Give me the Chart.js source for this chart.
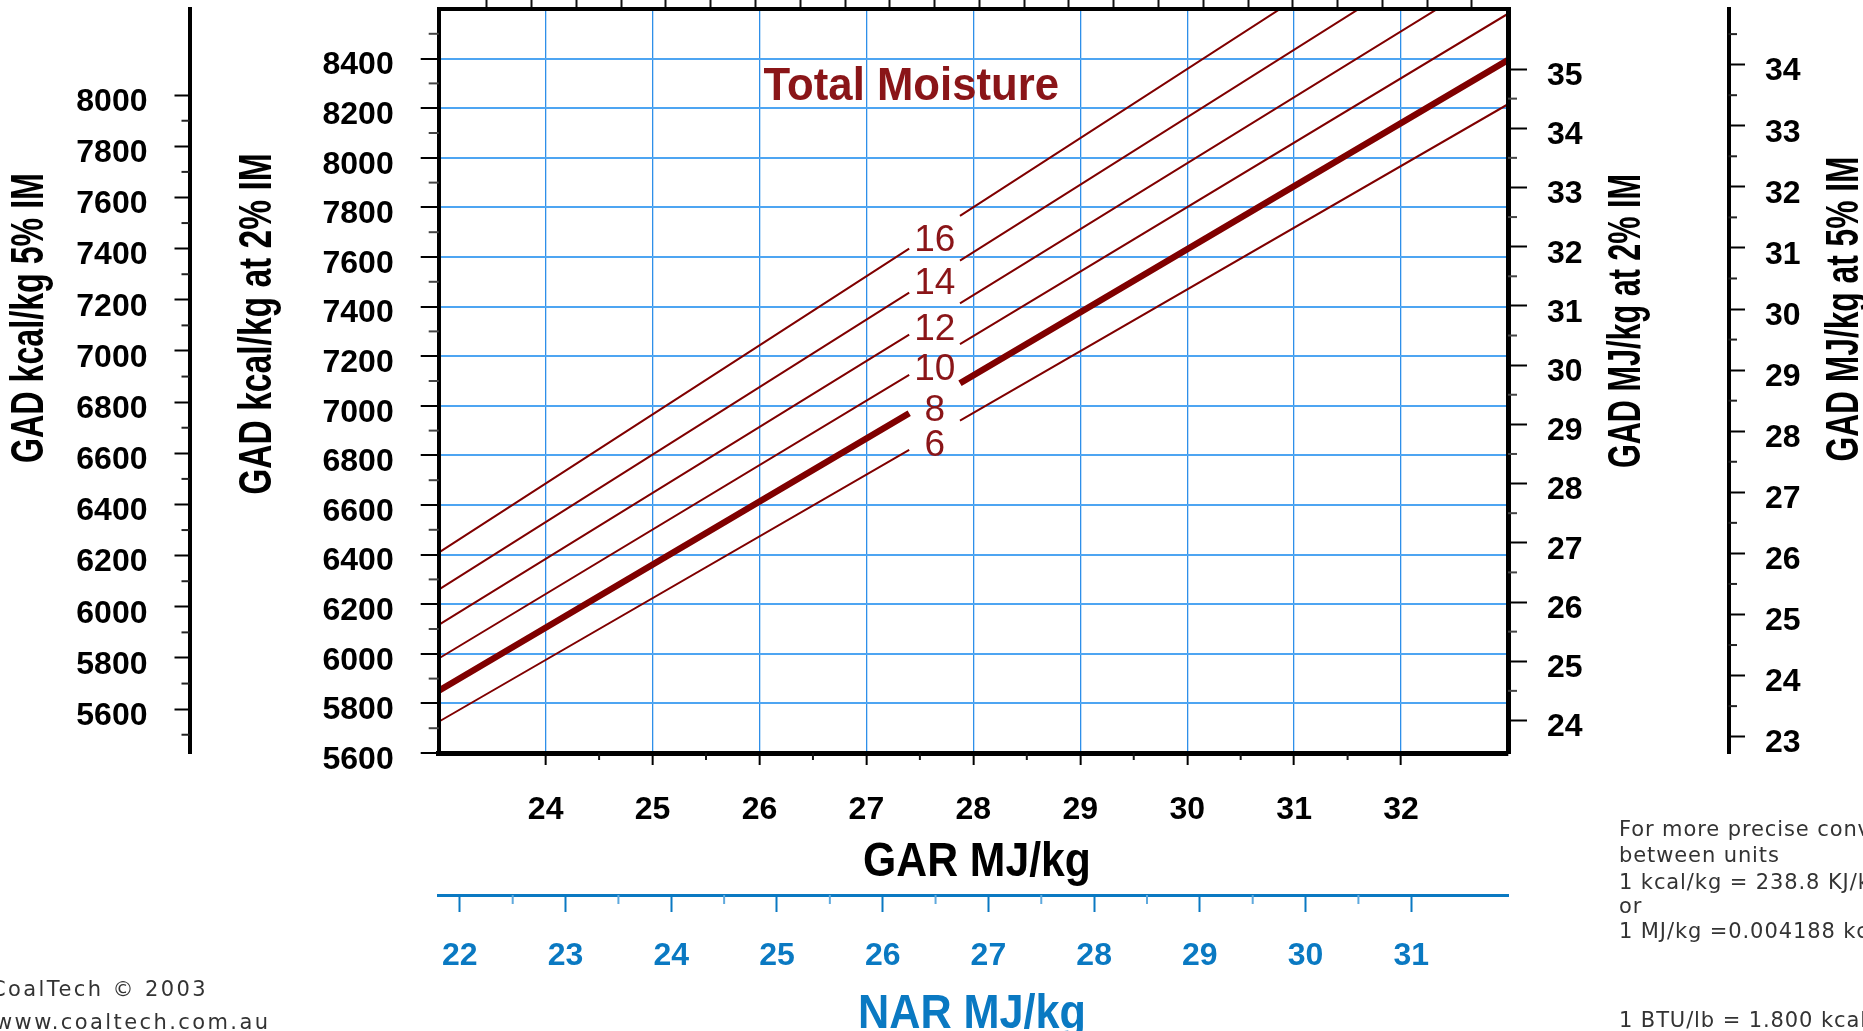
<!DOCTYPE html>
<html>
<head>
<meta charset="utf-8">
<title>GAR to GAD conversion</title>
<script src="https://cdn.jsdelivr.net/npm/chart.js@4.4.1/dist/chart.umd.min.js"></script>
<style>
  html, body { margin: 0; padding: 0; background: #fff; overflow: hidden; }
  #wrap { position: relative; width: 1863px; height: 1031px; overflow: hidden; }
  #chart { position: absolute; left: 0; top: 0; }
  .note { position: absolute; white-space: nowrap; font-family: 'DejaVu Sans', sans-serif; font-size: 21px; line-height: 1; color: #333; letter-spacing: 0.9px; }
  .credit { letter-spacing: 2.4px; }
</style>
</head>
<body>
<div id="wrap">
  <canvas id="chart" width="1863" height="1031"></canvas>
  <div class="note credit" style="left:-9px; top:979px;">CoalTech © 2003</div>
  <div class="note credit" style="left:-5px; top:1012px;">www.coaltech.com.au</div>
  <div class="note" style="left:1619px; top:819px;">For more precise conversions</div>
  <div class="note" style="left:1619px; top:845px;">between units</div>
  <div class="note" style="left:1619px; top:872px;">1 kcal/kg = 238.8 KJ/kg</div>
  <div class="note" style="left:1619px; top:896px;">or</div>
  <div class="note" style="left:1619px; top:921px;">1 MJ/kg =0.004188 kcal/kg</div>
  <div class="note" style="left:1619px; top:1010px;">1 BTU/lb = 1.800 kcal/kg</div>
</div>
<script>
// Total moisture lines, sampled at these GAR MJ/kg values
// (each line is broken between the 2nd and 3rd point to leave room for its label)
const garPoints = [23, 27.4, 27.875, 33];
const moistureLevels = [6, 8, 10, 12, 14, 16];
// GAD kcal/kg at 2% IM read at garPoints
const gadTm6 = [5726, 6822, 6940, 8216];
const gadTm8 = [5851, 6970, 7091, 8394];
const gadTm10 = [5981, 7125, 7249, 8581];
const gadTm12 = [6117, 7287, 7413, 8776];
const gadTm14 = [6259, 7456, 7585, 8980];
const gadTm16 = [6408, 7634, 7766, 9194];
// where the moisture numbers sit
const moistureLabelGar = 27.64;
const moistureLabelGad = [6839, 6980, 7147, 7308, 7490, 7665];

// axis ticks
const garTicks = [24, 25, 26, 27, 28, 29, 30, 31, 32];
const garMinor = [24.5, 25.5, 26.5, 27.5, 28.5, 29.5, 30.5, 31.5];
const narTicks = [22, 23, 24, 25, 26, 27, 28, 29, 30, 31];
const narMinor = [22.5, 23.5, 24.5, 25.5, 26.5, 27.5, 28.5, 29.5, 30.5];
const gadKcalTicks = [5600, 5800, 6000, 6200, 6400, 6600, 6800, 7000, 7200, 7400, 7600, 7800, 8000, 8200, 8400];
const gadKcalMinor = [5700, 5900, 6100, 6300, 6500, 6700, 6900, 7100, 7300, 7500, 7700, 7900, 8100, 8300, 8500];
const gadMjTicks = [24, 25, 26, 27, 28, 29, 30, 31, 32, 33, 34, 35];
const gadMjMinor = [24.5, 25.5, 26.5, 27.5, 28.5, 29.5, 30.5, 31.5, 32.5, 33.5, 34.5];
const gad5KcalTicks = [5600, 5800, 6000, 6200, 6400, 6600, 6800, 7000, 7200, 7400, 7600, 7800, 8000];
const gad5KcalMinor = [5500, 5700, 5900, 6100, 6300, 6500, 6700, 6900, 7100, 7300, 7500, 7700, 7900];
const gad5MjTicks = [23, 24, 25, 26, 27, 28, 29, 30, 31, 32, 33, 34];
const gad5MjMinor = [23.5, 24.5, 25.5, 26.5, 27.5, 28.5, 29.5, 30.5, 31.5, 32.5, 33.5, 34.5];
const garKcalTicks = [5600, 5700, 5800, 5900, 6000, 6100, 6200, 6300, 6400, 6500, 6600, 6700,
                      6800, 6900, 7000, 7100, 7200, 7300, 7400, 7500, 7600, 7700, 7800];

// axis ranges and unit conversions
const garMin = 23, garMax = 33;
const gadMin = 5600, gadMax = 8600;
const narMin = 21.8, narMax = 31.915;
const KCAL_PER_MJ = 238.8;
const IM5_OVER_IM2 = 95 / 98;

const LINE_RED = '#800000';
const TEXT_RED = '#8a1518';
const NAR_BLUE = '#0a79c2';
const FONT = "'Liberation Sans', Arial, sans-serif";
const tickFont = { family: FONT, size: 32, weight: 'bold' };

const series = [gadTm6, gadTm8, gadTm10, gadTm12, gadTm14, gadTm16];
const datasets = series.map((vals, i) => ({
  label: moistureLevels[i] + '% TM',
  data: [
    { x: garPoints[0], y: vals[0] },
    { x: garPoints[1], y: vals[1] },
    { x: garPoints[1], y: null },
    { x: garPoints[2], y: vals[2] },
    { x: garPoints[3], y: vals[3] }
  ],
  borderColor: LINE_RED,
  borderWidth: moistureLevels[i] === 8 ? 6.5 : 2,
  pointRadius: 0,
  fill: false,
  tension: 0
}));

const useTicks = list => scale => { scale.ticks = list.map(v => ({ value: v })); };
// fixed axis sizes, and no extra room asked for by edge labels
const fixSize = (dim, size) => scale => {
  scale[dim] = size;
  scale.paddingTop = scale.paddingBottom = scale.paddingLeft = scale.paddingRight = 0;
};

// short ticks between the labelled ones
const minorTickSpecs = [
  { id: 'x', values: garMinor, len: 7, color: '#111' },
  { id: 'xN', values: narMinor, len: 9, color: '#5fa9dd' },
  { id: 'y', values: gadKcalMinor, len: 10, color: '#444' },
  { id: 'yL5', values: gad5KcalMinor, len: 8, color: '#222' },
  { id: 'yR', values: gadMjMinor, len: 9, color: '#444' },
  { id: 'yR5', values: gad5MjMinor, len: 8.5, color: '#222' }
];

const minorTicks = {
  id: 'minorTicks',
  afterDraw(chart) {
    const ctx = chart.ctx;
    ctx.save();
    ctx.lineWidth = 2;
    minorTickSpecs.forEach(spec => {
      const s = chart.scales[spec.id];
      ctx.strokeStyle = spec.color;
      spec.values.forEach(v => {
        const p = s.getPixelForValue(v);
        ctx.beginPath();
        if (s.position === 'left') { ctx.moveTo(s.right - spec.len, p); ctx.lineTo(s.right, p); }
        else if (s.position === 'right') { ctx.moveTo(s.left, p); ctx.lineTo(s.left + spec.len, p); }
        else { ctx.moveTo(p, s.top); ctx.lineTo(p, s.top + spec.len); }
        ctx.stroke();
      });
    });
    ctx.restore();
  }
};

// axis titles (the originals use a condensed face, so the text is squeezed)
const titleSpecs = [
  { text: 'GAD kcal/kg 5% IM', x: 30, y: 318, rot: -Math.PI / 2, size: 46, squeeze: 0.70, color: '#000' },
  { text: 'GAD kcal/kg at 2% IM', x: 258, y: 324, rot: -Math.PI / 2, size: 46, squeeze: 0.73, color: '#000' },
  { text: 'GAD MJ/kg at 2% IM', x: 1627, y: 321, rot: -Math.PI / 2, size: 46, squeeze: 0.665, color: '#000' },
  { text: 'GAD MJ/kg at 5% IM', x: 1845, y: 309, rot: -Math.PI / 2, size: 46, squeeze: 0.69, color: '#000' },
  { text: 'GAR MJ/kg', x: 977, y: 863, rot: 0, size: 48, squeeze: 0.89, color: '#000' },
  { text: 'NAR MJ/kg', x: 972, y: 1015, rot: 0, size: 48, squeeze: 0.9, color: NAR_BLUE }
];

const chartText = {
  id: 'chartText',
  afterDraw(chart) {
    const ctx = chart.ctx;
    const xs = chart.scales.x, ys = chart.scales.y;
    ctx.save();
    ctx.textAlign = 'center';
    ctx.textBaseline = 'middle';

    titleSpecs.forEach(t => {
      ctx.save();
      ctx.translate(t.x, t.y);
      ctx.rotate(t.rot);
      ctx.scale(t.squeeze, 1);
      ctx.font = 'bold ' + t.size + 'px ' + FONT;
      ctx.fillStyle = t.color;
      ctx.fillText(t.text, 0, 0);
      ctx.restore();
    });

    // moisture numbers in the line breaks
    ctx.font = '37px ' + FONT;
    ctx.fillStyle = TEXT_RED;
    moistureLevels.forEach((m, i) => {
      ctx.fillText(String(m), xs.getPixelForValue(moistureLabelGar), ys.getPixelForValue(moistureLabelGad[i]));
    });

    // "Total Moisture" heading
    ctx.save();
    ctx.translate(xs.getPixelForValue(27.42), ys.getPixelForValue(8285));
    ctx.scale(0.93, 1);
    ctx.font = 'bold 47px ' + FONT;
    ctx.fillStyle = TEXT_RED;
    ctx.fillText('Total Moisture', 0, 0);
    ctx.restore();

    ctx.restore();
  }
};

new Chart(document.getElementById('chart'), {
  type: 'line',
  data: { datasets },
  options: {
    responsive: false,
    animation: false,
    devicePixelRatio: 1,
    events: [],
    layout: { padding: 0, autoPadding: false },
    plugins: { legend: { display: false }, tooltip: { enabled: false } },
    scales: {
      x: {
        type: 'linear', position: 'bottom', min: garMin, max: garMax,
        afterBuildTicks: useTicks(garTicks),
        afterFit: fixSize('height', 142),
        grid: { color: '#2e8fe9', lineWidth: 1.3, tickColor: '#000', tickWidth: 2, tickLength: 12 },
        border: { color: '#000', width: 5, z: 1 },
        ticks: { color: '#000', font: tickFont, padding: 25.5, maxRotation: 0, autoSkip: false, callback: v => String(v) }
      },
      xN: {
        type: 'linear', position: 'bottom', min: narMin, max: narMax,
        afterBuildTicks: useTicks(narTicks),
        afterFit: fixSize('height', 136),
        grid: { drawOnChartArea: false, tickColor: NAR_BLUE, tickWidth: 2, tickLength: 17 },
        border: { color: NAR_BLUE, width: 3 },
        ticks: { color: NAR_BLUE, font: tickFont, padding: 24.5, maxRotation: 0, autoSkip: false, callback: v => String(v) }
      },
      xTop: {
        type: 'linear', position: 'top', min: garMin * KCAL_PER_MJ, max: garMax * KCAL_PER_MJ,
        afterBuildTicks: useTicks(garKcalTicks),
        afterFit: fixSize('height', 9),
        grid: { drawOnChartArea: false, tickColor: '#111', tickWidth: 2, tickLength: 9 },
        border: { color: '#000', width: 4, z: 1 },
        ticks: { display: false }
      },
      y: {
        type: 'linear', position: 'left', min: gadMin, max: gadMax,
        afterBuildTicks: useTicks(gadKcalTicks),
        afterFit: fixSize('width', 249.2),
        grid: { color: '#4ea5f2', lineWidth: 2, tickColor: '#000', tickWidth: 2, tickLength: 18 },
        border: { color: '#000', width: 4, z: 1 },
        ticks: { color: '#000', font: tickFont, padding: 27, labelOffset: 7, autoSkip: false, callback: v => String(v) }
      },
      yL5: {
        type: 'linear', position: 'left', min: gadMin * IM5_OVER_IM2, max: gadMax * IM5_OVER_IM2,
        afterBuildTicks: useTicks(gad5KcalTicks),
        afterFit: fixSize('width', 189.5),
        grid: { drawOnChartArea: false, tickColor: '#000', tickWidth: 2, tickLength: 15 },
        border: { color: '#000', width: 4 },
        ticks: { color: '#000', font: tickFont, padding: 27, labelOffset: 7, autoSkip: false, callback: v => String(v) }
      },
      yR: {
        type: 'linear', position: 'right', min: gadMin / KCAL_PER_MJ, max: gadMax / KCAL_PER_MJ,
        afterBuildTicks: useTicks(gadMjTicks),
        afterFit: fixSize('width', 220.5),
        grid: { drawOnChartArea: false, tickColor: '#000', tickWidth: 2, tickLength: 19 },
        border: { color: '#000', width: 5, z: 1 },
        ticks: { color: '#000', font: tickFont, padding: 20, labelOffset: 7, autoSkip: false, callback: v => String(v) }
      },
      yR5: {
        type: 'linear', position: 'right',
        min: gadMin / KCAL_PER_MJ * IM5_OVER_IM2, max: gadMax / KCAL_PER_MJ * IM5_OVER_IM2,
        afterBuildTicks: useTicks(gad5MjTicks),
        afterFit: fixSize('width', 134.5),
        grid: { drawOnChartArea: false, tickColor: '#000', tickWidth: 2, tickLength: 16.5 },
        border: { color: '#000', width: 4 },
        ticks: { color: '#000', font: tickFont, padding: 20, labelOffset: 7, autoSkip: false, callback: v => String(v) }
      }
    }
  },
  plugins: [minorTicks, chartText]
});
</script>
</body>
</html>
